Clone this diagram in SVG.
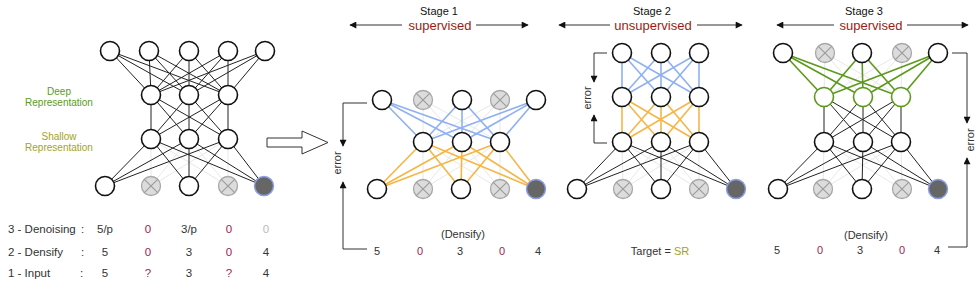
<svg xmlns="http://www.w3.org/2000/svg" xmlns:xlink="http://www.w3.org/1999/xlink" width="980" height="288" viewBox="0 0 980 288">
<style>
text{font-family:"Liberation Sans",Arial,sans-serif;fill:#333}
.n{fill:#fff;stroke:#111;stroke-width:1.6}
.g{fill:#fff;stroke:#5b9a1b;stroke-width:1.6}
.d{fill:#666;stroke:#8e9fe6;stroke-width:1.5}
.k line{stroke:#222;stroke-width:1}
.l line{stroke:#e8e8e8;stroke-width:1}
.b line{stroke:#8fb0f2;stroke-width:1.6}
.o line{stroke:#f6b646;stroke-width:1.6}
.gr line{stroke:#5b9a1b;stroke-width:1.6}
.br{fill:none;stroke:#333;stroke-width:1}
.v{font-size:11px;text-anchor:middle}
.m{fill:#9e1d52}
.t{font-size:11px;text-anchor:middle;fill:#111}
.s{font-size:13px;text-anchor:middle;fill:#a3180f}
.lab{font-size:11.5px}
</style>
<defs>
<marker id="ah" viewBox="0 0 10 10" refX="9" refY="5" markerWidth="8" markerHeight="7" markerUnits="userSpaceOnUse" orient="auto"><path d="M0,0L10,5L0,10z" fill="#111"/></marker>
<g id="xn"><circle r="9.5" fill="#dcdcdc" stroke="#a8a8a8" stroke-width="1.3"/><path d="M-6.7,-6.7L6.7,6.7M6.7,-6.7L-6.7,6.7" stroke="#9a9a9a" stroke-width="1.1"/></g>
</defs>
<g id="connectors">
<g class="l">
<line x1="151" y1="139" x2="151" y2="186"/><line x1="189" y1="139" x2="151" y2="186"/><line x1="228" y1="139" x2="151" y2="186"/>
<line x1="151" y1="139" x2="228" y2="186"/><line x1="189" y1="139" x2="228" y2="186"/><line x1="228" y1="139" x2="228" y2="186"/>
<line x1="423" y1="100" x2="423" y2="142"/><line x1="423" y1="100" x2="462" y2="142"/><line x1="423" y1="100" x2="500" y2="142"/>
<line x1="500" y1="100" x2="423" y2="142"/><line x1="500" y1="100" x2="462" y2="142"/><line x1="500" y1="100" x2="500" y2="142"/>
<line x1="423" y1="142" x2="423" y2="189"/><line x1="462" y1="142" x2="423" y2="189"/><line x1="500" y1="142" x2="423" y2="189"/>
<line x1="423" y1="142" x2="500" y2="189"/><line x1="462" y1="142" x2="500" y2="189"/><line x1="500" y1="142" x2="500" y2="189"/>
<line x1="622" y1="142" x2="623" y2="189"/><line x1="661" y1="142" x2="623" y2="189"/><line x1="699" y1="142" x2="623" y2="189"/>
<line x1="622" y1="142" x2="699" y2="189"/><line x1="661" y1="142" x2="699" y2="189"/><line x1="699" y1="142" x2="699" y2="189"/>
<line x1="825" y1="53" x2="824" y2="97"/><line x1="825" y1="53" x2="863" y2="97"/><line x1="825" y1="53" x2="901" y2="97"/>
<line x1="902" y1="53" x2="824" y2="97"/><line x1="902" y1="53" x2="863" y2="97"/><line x1="902" y1="53" x2="901" y2="97"/>
<line x1="824" y1="142" x2="823" y2="189"/><line x1="863" y1="142" x2="823" y2="189"/><line x1="901" y1="142" x2="823" y2="189"/>
<line x1="824" y1="142" x2="902" y2="189"/><line x1="863" y1="142" x2="902" y2="189"/><line x1="901" y1="142" x2="902" y2="189"/>
</g>
<g class="k">
<line x1="110" y1="51" x2="151" y2="95"/><line x1="110" y1="51" x2="189" y2="95"/><line x1="110" y1="51" x2="228" y2="95"/>
<line x1="149" y1="51" x2="151" y2="95"/><line x1="149" y1="51" x2="189" y2="95"/><line x1="149" y1="51" x2="228" y2="95"/>
<line x1="189" y1="51" x2="151" y2="95"/><line x1="189" y1="51" x2="189" y2="95"/><line x1="189" y1="51" x2="228" y2="95"/>
<line x1="228" y1="51" x2="151" y2="95"/><line x1="228" y1="51" x2="189" y2="95"/><line x1="228" y1="51" x2="228" y2="95"/>
<line x1="265" y1="51" x2="151" y2="95"/><line x1="265" y1="51" x2="189" y2="95"/><line x1="265" y1="51" x2="228" y2="95"/>
<line x1="151" y1="95" x2="151" y2="139"/><line x1="151" y1="95" x2="189" y2="139"/><line x1="151" y1="95" x2="228" y2="139"/>
<line x1="189" y1="95" x2="151" y2="139"/><line x1="189" y1="95" x2="189" y2="139"/><line x1="189" y1="95" x2="228" y2="139"/>
<line x1="228" y1="95" x2="151" y2="139"/><line x1="228" y1="95" x2="189" y2="139"/><line x1="228" y1="95" x2="228" y2="139"/>
<line x1="151" y1="139" x2="105" y2="186"/><line x1="189" y1="139" x2="105" y2="186"/><line x1="228" y1="139" x2="105" y2="186"/>
<line x1="151" y1="139" x2="189" y2="186"/><line x1="189" y1="139" x2="189" y2="186"/><line x1="228" y1="139" x2="189" y2="186"/>
<line x1="151" y1="139" x2="264" y2="186"/><line x1="189" y1="139" x2="264" y2="186"/><line x1="228" y1="139" x2="264" y2="186"/>
<line x1="622" y1="142" x2="577" y2="189"/><line x1="661" y1="142" x2="577" y2="189"/><line x1="699" y1="142" x2="577" y2="189"/>
<line x1="622" y1="142" x2="661" y2="189"/><line x1="661" y1="142" x2="661" y2="189"/><line x1="699" y1="142" x2="661" y2="189"/>
<line x1="622" y1="142" x2="736" y2="189"/><line x1="661" y1="142" x2="736" y2="189"/><line x1="699" y1="142" x2="736" y2="189"/>
<line x1="824" y1="97" x2="824" y2="142"/><line x1="824" y1="97" x2="863" y2="142"/><line x1="824" y1="97" x2="901" y2="142"/>
<line x1="863" y1="97" x2="824" y2="142"/><line x1="863" y1="97" x2="863" y2="142"/><line x1="863" y1="97" x2="901" y2="142"/>
<line x1="901" y1="97" x2="824" y2="142"/><line x1="901" y1="97" x2="863" y2="142"/><line x1="901" y1="97" x2="901" y2="142"/>
<line x1="824" y1="142" x2="778" y2="189"/><line x1="863" y1="142" x2="778" y2="189"/><line x1="901" y1="142" x2="778" y2="189"/>
<line x1="824" y1="142" x2="862" y2="189"/><line x1="863" y1="142" x2="862" y2="189"/><line x1="901" y1="142" x2="862" y2="189"/>
<line x1="824" y1="142" x2="938" y2="189"/><line x1="863" y1="142" x2="938" y2="189"/><line x1="901" y1="142" x2="938" y2="189"/>
</g>
<g class="b">
<line x1="382" y1="100" x2="423" y2="142"/><line x1="382" y1="100" x2="462" y2="142"/><line x1="382" y1="100" x2="500" y2="142"/>
<line x1="462" y1="100" x2="423" y2="142"/><line x1="462" y1="100" x2="462" y2="142"/><line x1="462" y1="100" x2="500" y2="142"/>
<line x1="536" y1="100" x2="423" y2="142"/><line x1="536" y1="100" x2="462" y2="142"/><line x1="536" y1="100" x2="500" y2="142"/>
<line x1="622" y1="53" x2="622" y2="97"/><line x1="622" y1="53" x2="661" y2="97"/><line x1="622" y1="53" x2="699" y2="97"/>
<line x1="661" y1="53" x2="622" y2="97"/><line x1="661" y1="53" x2="661" y2="97"/><line x1="661" y1="53" x2="699" y2="97"/>
<line x1="699" y1="53" x2="622" y2="97"/><line x1="699" y1="53" x2="661" y2="97"/><line x1="699" y1="53" x2="699" y2="97"/>
</g>
<g class="o">
<line x1="423" y1="142" x2="377" y2="189"/><line x1="462" y1="142" x2="377" y2="189"/><line x1="500" y1="142" x2="377" y2="189"/>
<line x1="423" y1="142" x2="461" y2="189"/><line x1="462" y1="142" x2="461" y2="189"/><line x1="500" y1="142" x2="461" y2="189"/>
<line x1="423" y1="142" x2="536" y2="189"/><line x1="462" y1="142" x2="536" y2="189"/><line x1="500" y1="142" x2="536" y2="189"/>
<line x1="622" y1="97" x2="622" y2="142"/><line x1="622" y1="97" x2="661" y2="142"/><line x1="622" y1="97" x2="699" y2="142"/>
<line x1="661" y1="97" x2="622" y2="142"/><line x1="661" y1="97" x2="661" y2="142"/><line x1="661" y1="97" x2="699" y2="142"/>
<line x1="699" y1="97" x2="622" y2="142"/><line x1="699" y1="97" x2="661" y2="142"/><line x1="699" y1="97" x2="699" y2="142"/>
</g>
<g class="gr">
<line x1="783" y1="53" x2="824" y2="97"/><line x1="783" y1="53" x2="863" y2="97"/><line x1="783" y1="53" x2="901" y2="97"/>
<line x1="862" y1="53" x2="824" y2="97"/><line x1="862" y1="53" x2="863" y2="97"/><line x1="862" y1="53" x2="901" y2="97"/>
<line x1="938" y1="53" x2="824" y2="97"/><line x1="938" y1="53" x2="863" y2="97"/><line x1="938" y1="53" x2="901" y2="97"/>
</g>
<path class="br" d="M367,103H343V146" marker-end="url(#ah)"/>
<path class="br" d="M367,249H343V182" marker-end="url(#ah)"/>
<path class="br" d="M607,53H594V82" marker-end="url(#ah)"/>
<path class="br" d="M607,143H594V115" marker-end="url(#ah)"/>
<path class="br" d="M952,53H967V123" marker-end="url(#ah)"/>
<path class="br" d="M948,247H967V158" marker-end="url(#ah)"/>
<path class="br" d="M402,25H350" marker-end="url(#ah)"/><path class="br" d="M476,25H528" marker-end="url(#ah)"/>
<path class="br" d="M610,25H559" marker-end="url(#ah)"/><path class="br" d="M697,25H742" marker-end="url(#ah)"/>
<path class="br" d="M834,25H777" marker-end="url(#ah)"/><path class="br" d="M907,25H968" marker-end="url(#ah)"/>
<polygon points="267,138 302,138 302,131 328,142.5 302,154 302,147 267,147" fill="#fff" stroke="#333" stroke-width="1"/>
</g>
<g id="left-net">
<g id="l-t1"><circle class="n" cx="110" cy="51" r="9.5"/></g>
<g id="l-t2"><circle class="n" cx="149" cy="51" r="9.5"/></g>
<g id="l-t3"><circle class="n" cx="189" cy="51" r="9.5"/></g>
<g id="l-t4"><circle class="n" cx="228" cy="51" r="9.5"/></g>
<g id="l-t5"><circle class="n" cx="265" cy="51" r="9.5"/></g>
<g id="l-d1"><circle class="n" cx="151" cy="95" r="9.5"/></g>
<g id="l-d2"><circle class="n" cx="189" cy="95" r="9.5"/></g>
<g id="l-d3"><circle class="n" cx="228" cy="95" r="9.5"/></g>
<g id="l-s1"><circle class="n" cx="151" cy="139" r="9.5"/></g>
<g id="l-s2"><circle class="n" cx="189" cy="139" r="9.5"/></g>
<g id="l-s3"><circle class="n" cx="228" cy="139" r="9.5"/></g>
<g id="l-b1"><circle class="n" cx="105" cy="186" r="9.5"/></g>
<g id="l-b2"><use xlink:href="#xn" x="151" y="186"/></g>
<g id="l-b3"><circle class="n" cx="189" cy="186" r="9.5"/></g>
<g id="l-b4"><use xlink:href="#xn" x="228" y="186"/></g>
<g id="l-b5"><circle class="d" cx="264" cy="186" r="9.5"/></g>
</g>
<g id="stage1-net">
<g id="s1-t1"><circle class="n" cx="382" cy="100" r="9.5"/></g>
<g id="s1-t2"><use xlink:href="#xn" x="423" y="100"/></g>
<g id="s1-t3"><circle class="n" cx="462" cy="100" r="9.5"/></g>
<g id="s1-t4"><use xlink:href="#xn" x="500" y="100"/></g>
<g id="s1-t5"><circle class="n" cx="536" cy="100" r="9.5"/></g>
<g id="s1-m1"><circle class="n" cx="423" cy="142" r="9.5"/></g>
<g id="s1-m2"><circle class="n" cx="462" cy="142" r="9.5"/></g>
<g id="s1-m3"><circle class="n" cx="500" cy="142" r="9.5"/></g>
<g id="s1-b1"><circle class="n" cx="377" cy="189" r="9.5"/></g>
<g id="s1-b2"><use xlink:href="#xn" x="423" y="189"/></g>
<g id="s1-b3"><circle class="n" cx="461" cy="189" r="9.5"/></g>
<g id="s1-b4"><use xlink:href="#xn" x="500" y="189"/></g>
<g id="s1-b5"><circle class="d" cx="536" cy="189" r="9.5"/></g>
</g>
<g id="stage2-net">
<g id="s2-t1"><circle class="n" cx="622" cy="53" r="9.5"/></g>
<g id="s2-t2"><circle class="n" cx="661" cy="53" r="9.5"/></g>
<g id="s2-t3"><circle class="n" cx="699" cy="53" r="9.5"/></g>
<g id="s2-d1"><circle class="n" cx="622" cy="97" r="9.5"/></g>
<g id="s2-d2"><circle class="n" cx="661" cy="97" r="9.5"/></g>
<g id="s2-d3"><circle class="n" cx="699" cy="97" r="9.5"/></g>
<g id="s2-s1"><circle class="n" cx="622" cy="142" r="9.5"/></g>
<g id="s2-s2"><circle class="n" cx="661" cy="142" r="9.5"/></g>
<g id="s2-s3"><circle class="n" cx="699" cy="142" r="9.5"/></g>
<g id="s2-b1"><circle class="n" cx="577" cy="189" r="9.5"/></g>
<g id="s2-b2"><use xlink:href="#xn" x="623" y="189"/></g>
<g id="s2-b3"><circle class="n" cx="661" cy="189" r="9.5"/></g>
<g id="s2-b4"><use xlink:href="#xn" x="699" y="189"/></g>
<g id="s2-b5"><circle class="d" cx="736" cy="189" r="9.5"/></g>
</g>
<g id="stage3-net">
<g id="s3-t1"><circle class="n" cx="783" cy="53" r="9.5"/></g>
<g id="s3-t2"><use xlink:href="#xn" x="825" y="53"/></g>
<g id="s3-t3"><circle class="n" cx="862" cy="53" r="9.5"/></g>
<g id="s3-t4"><use xlink:href="#xn" x="902" y="53"/></g>
<g id="s3-t5"><circle class="n" cx="938" cy="53" r="9.5"/></g>
<g id="s3-d1"><circle class="g" cx="824" cy="97" r="9.5"/></g>
<g id="s3-d2"><circle class="g" cx="863" cy="97" r="9.5"/></g>
<g id="s3-d3"><circle class="g" cx="901" cy="97" r="9.5"/></g>
<g id="s3-s1"><circle class="n" cx="824" cy="142" r="9.5"/></g>
<g id="s3-s2"><circle class="n" cx="863" cy="142" r="9.5"/></g>
<g id="s3-s3"><circle class="n" cx="901" cy="142" r="9.5"/></g>
<g id="s3-b1"><circle class="n" cx="778" cy="189" r="9.5"/></g>
<g id="s3-b2"><use xlink:href="#xn" x="823" y="189"/></g>
<g id="s3-b3"><circle class="n" cx="862" cy="189" r="9.5"/></g>
<g id="s3-b4"><use xlink:href="#xn" x="902" y="189"/></g>
<g id="s3-b5"><circle class="d" cx="938" cy="189" r="9.5"/></g>
</g>
<g id="labels">
<text x="59" y="94.5" font-size="10" text-anchor="middle" style="fill:#5b9a1b">Deep</text>
<text x="59" y="106" font-size="10" text-anchor="middle" style="fill:#5b9a1b">Representation</text>
<text x="59" y="139.5" font-size="10" text-anchor="middle" style="fill:#a3a31c">Shallow</text>
<text x="59" y="151" font-size="10" text-anchor="middle" style="fill:#a3a31c">Representation</text>
<text class="lab" x="8" y="233">3 - Denoising</text><text class="lab" x="81" y="233">:</text>
<text class="lab" x="8" y="256">2 - Densify</text><text class="lab" x="81" y="256">:</text>
<text class="lab" x="8" y="277">1 - Input</text><text class="lab" x="80" y="277">:</text>
<text class="v lab" x="105" y="233">5/p</text><text class="v lab m" x="148" y="233">0</text><text class="v lab" x="189" y="233">3/p</text><text class="v lab m" x="229" y="233">0</text><text class="v lab" x="266" y="233" style="fill:#bbb">0</text>
<text class="v lab" x="105" y="256">5</text><text class="v lab m" x="148" y="256">0</text><text class="v lab" x="189" y="256">3</text><text class="v lab m" x="229" y="256">0</text><text class="v lab" x="266" y="256">4</text>
<text class="v lab" x="105" y="277">5</text><text class="v lab m" x="148" y="277">?</text><text class="v lab" x="189" y="277">3</text><text class="v lab m" x="229" y="277">?</text><text class="v lab" x="266" y="277">4</text>
<text class="t" x="439" y="15">Stage 1</text><text class="s" x="440" y="29.5">supervised</text>
<text class="t" x="652" y="15">Stage 2</text><text class="s" x="653" y="29.5">unsupervised</text>
<text class="t" x="864" y="15">Stage 3</text><text class="s" x="871" y="29.5">supervised</text>
<text class="v" x="0" y="0" transform="translate(341,163) rotate(-90)">error</text>
<text class="v" x="0" y="0" transform="translate(591,98) rotate(-90)">error</text>
<text class="v" x="0" y="0" transform="translate(974,140) rotate(-90)">error</text>
<text class="v" x="463" y="238">(Densify)</text>
<text class="v" x="377" y="255">5</text><text class="v m" x="420" y="255">0</text><text class="v" x="460" y="255">3</text><text class="v m" x="502" y="255">0</text><text class="v" x="538" y="255">4</text>
<text class="v" x="660" y="255">Target = <tspan style="fill:#a3a31c">SR</tspan></text>
<text class="v" x="866" y="239">(Densify)</text>
<text class="v" x="777" y="254">5</text><text class="v m" x="820" y="254">0</text><text class="v" x="860" y="254">3</text><text class="v m" x="902" y="254">0</text><text class="v" x="937" y="254">4</text>
</g>
</svg>
